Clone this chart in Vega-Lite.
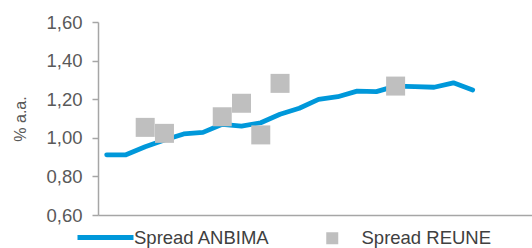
{
  "$schema": "https://vega.github.io/schema/vega-lite/v6.json",
  "width": 434,
  "height": 193,
  "autosize": {"type": "none"},
  "padding": {"left": 98, "top": 22, "right": 0, "bottom": 33},
  "config": {"view": {"stroke": null}, "font": "Liberation Sans", "axis": {"labelOverlap": false}},
  "data": {"values": [
    {"i": 0, "anbima": 0.912, "reune": null},
    {"i": 1, "anbima": 0.912, "reune": null},
    {"i": 2, "anbima": 0.954, "reune": 1.054},
    {"i": 3, "anbima": 0.989, "reune": 1.023},
    {"i": 4, "anbima": 1.020, "reune": null},
    {"i": 5, "anbima": 1.028, "reune": null},
    {"i": 6, "anbima": 1.070, "reune": 1.109},
    {"i": 7, "anbima": 1.060, "reune": 1.179},
    {"i": 8, "anbima": 1.078, "reune": 1.015},
    {"i": 9, "anbima": 1.122, "reune": 1.282},
    {"i": 10, "anbima": 1.153, "reune": null},
    {"i": 11, "anbima": 1.199, "reune": null},
    {"i": 12, "anbima": 1.213, "reune": null},
    {"i": 13, "anbima": 1.242, "reune": null},
    {"i": 14, "anbima": 1.239, "reune": null},
    {"i": 15, "anbima": 1.268, "reune": 1.268},
    {"i": 16, "anbima": 1.265, "reune": null},
    {"i": 17, "anbima": 1.262, "reune": null},
    {"i": 18, "anbima": 1.285, "reune": null},
    {"i": 19, "anbima": 1.248, "reune": null}
  ]},
  "layer": [
    {
      "mark": {"type": "line", "strokeWidth": 4.8, "strokeCap": "round", "strokeJoin": "round"},
      "encoding": {
        "x": {"field": "i", "type": "quantitative", "scale": {"domain": [-0.45, 22.08], "nice": false, "zero": false},
              "axis": {"title": null, "labels": false, "ticks": false, "grid": false, "domainColor": "#A6A6A6", "domainWidth": 1.5}},
        "y": {"field": "anbima", "type": "quantitative", "scale": {"domain": [0.6, 1.6], "nice": false, "zero": false},
              "axis": {"values": [0.6, 0.8, 1.0, 1.2, 1.4, 1.6], "labelExpr": "replace(format(datum.value, '.2f'), '.', ',')",
                       "labelOverlap": false, "labelBound": false, "labelFlush": false,
                       "labelFontSize": 18.5, "labelColor": "#595959", "labelPadding": 10, "tickSize": 6, "tickColor": "#A6A6A6", "tickWidth": 1.5,
                       "domainColor": "#A6A6A6", "domainWidth": 1.5, "grid": false,
                       "title": "% a.a.", "titleFontSize": 16, "titleFontWeight": "normal", "titleColor": "#595959", "titlePadding": 17}},
        "stroke": {"datum": "Spread ANBIMA", "type": "nominal", "scale": {"range": ["#0098DA"]},
                   "legend": {"title": null, "orient": "none", "legendX": -23, "legendY": 185, "padding": 0,
                              "symbolType": "stroke", "symbolSize": 3136, "symbolStrokeWidth": 4.8, "symbolStrokeColor": "#0098DA",
                              "labelFontSize": 18.5, "labelColor": "#404040", "labelOffset": -2}}
      }
    },
    {
      "transform": [{"filter": "datum.reune != null"}],
      "mark": {"type": "point", "shape": "square", "filled": true, "size": 361, "opacity": 1},
      "encoding": {
        "x": {"field": "i", "type": "quantitative"},
        "y": {"field": "reune", "type": "quantitative",
              "axis": {"values": [0.6, 0.8, 1.0, 1.2, 1.4, 1.6], "labelOverlap": false}},
        "fill": {"datum": "Spread REUNE", "type": "nominal", "scale": {"range": ["#BFBFBF"]},
                 "legend": {"title": null, "orient": "none", "legendX": 225, "legendY": 207, "padding": 0,
                            "symbolType": "square", "symbolSize": 144, "symbolFillColor": "#BFBFBF", "symbolStrokeWidth": 0,
                            "labelFontSize": 18.5, "labelColor": "#404040", "labelOffset": 20}}
      }
    }
  ]
}
